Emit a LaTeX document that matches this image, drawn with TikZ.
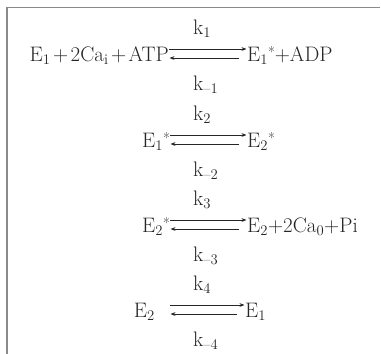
\documentclass[tikz,border=0pt]{standalone}
\usepackage{fontspec}
\usetikzlibrary{arrows.meta}
\definecolor{txt}{HTML}{262626}
\definecolor{framec}{HTML}{8A8A8A}
\newcommand\sta{\raisebox{0.17em}{\scalebox{0.7}{*}}}
\newcommand\pl{\hspace{0.12em}+\hspace{0.12em}}
\begin{document}
\begin{tikzpicture}[x=1pt,y=-1pt,
  font=\fontsize{21}{25}\selectfont\addfontfeatures{FakeBold=1},
  every node/.style={inner sep=0pt,text=txt},
  lhs/.style={anchor=base east},
  rhs/.style={anchor=base west},
  rate/.style={anchor=base west},
  fw/.style={draw=txt,line width=0.85pt,-{Stealth[length=5pt,width=3.8pt]}},
  frame/.style={draw=framec,line width=1.1pt}]
\useasboundingbox (0,0) rectangle (381,354);
\draw[frame] (7,354) -- (7,7.5) -- (380,7.5);
% row 1
\coordinate (s1) at (169,61); \coordinate (t1) at (247,61);
\node[lhs] (l1) at (s1) {E\textsubscript{1}\pl2Ca\textsubscript{i}\pl ATP};
\node[rhs] (r1) at (t1) {E\textsubscript{1}\sta+ADP};
\node[rate] (k1) at (193,34) {k\textsubscript{1}};
\node[rate] (km1) at (193,90) {k\textsubscript{--1}};
% row 2
\coordinate (s2) at (170,147); \coordinate (t2) at (247,147);
\node[lhs] (l2) at (s2) {E\textsubscript{1}\sta};
\node[rhs] (r2) at (t2) {E\textsubscript{2}\sta};
\node[rate] (k2) at (193,120) {k\textsubscript{2}};
\node[rate] (km2) at (193,176) {k\textsubscript{--2}};
% row 3
\coordinate (s3) at (170,232); \coordinate (t3) at (247,232);
\node[lhs] (l3) at (s3) {E\textsubscript{2}\sta};
\node[rhs] (r3) at (t3) {E\textsubscript{2}+2Ca\textsubscript{0}+Pi};
\node[rate] (k3) at (193,205) {k\textsubscript{3}};
\node[rate] (km3) at (193,261) {k\textsubscript{--3}};
% row 4
\coordinate (s4) at (170,317); \coordinate (t4) at (245,317);
\node[lhs] (l4) at (155,317) {E\textsubscript{2}};
\node[rhs] (r4) at (t4) {E\textsubscript{1}};
\node[rate] (k4) at (193,290) {k\textsubscript{4}};
\node[rate] (km4) at (193,346) {k\textsubscript{--4}};
% arrows
\foreach \i in {1,2,3,4}{
  \draw[fw] ([yshift=12pt]s\i) -- ([xshift=-0.5pt,yshift=12pt]t\i);
  \draw[fw] ([xshift=-8pt,yshift=3pt]t\i) -- ([xshift=0.5pt,yshift=3pt]s\i);
}
\end{tikzpicture}
\end{document}
